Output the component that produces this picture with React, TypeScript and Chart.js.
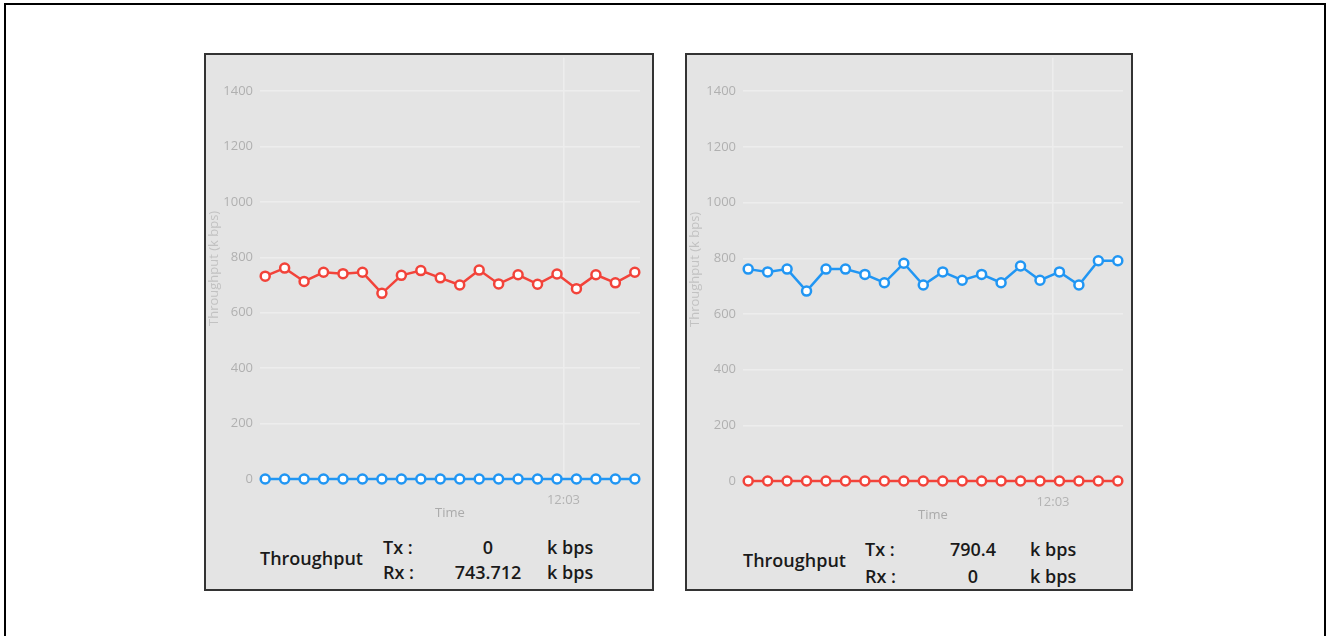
import React, { useEffect, useRef } from 'react';
import { Chart, registerables } from 'chart.js';

Chart.register(...registerables);

// ---- data ----
const leftTimes = [
  '12:02:14', '12:02:17', '12:02:20', '12:02:23', '12:02:26', '12:02:29', '12:02:32', '12:02:35', '12:02:38', '12:02:41',
  '12:02:44', '12:02:47', '12:02:50', '12:02:53', '12:02:56', '12:02:59', '12:03:02', '12:03:05', '12:03:08', '12:03:11',
];
const leftTx = [0, 0, 0, 0, 0, 0, 0, 0, 0, 0, 0, 0, 0, 0, 0, 0, 0, 0, 0, 0];
const leftRx = [732, 761, 713, 746, 741, 746, 670, 735, 752, 726, 700, 754, 704, 737, 703, 740, 687, 737, 708, 746];

const rightTimes = [
  '12:02:13', '12:02:16', '12:02:19', '12:02:22', '12:02:25', '12:02:28', '12:02:31', '12:02:34', '12:02:37', '12:02:40',
  '12:02:43', '12:02:46', '12:02:49', '12:02:52', '12:02:55', '12:02:58', '12:03:01', '12:03:04', '12:03:07', '12:03:10',
];
const rightTx = [761, 751, 761, 682, 761, 761, 742, 712, 782, 704, 751, 721, 742, 712, 772, 721, 751, 704, 791, 791];
const rightRx = [0, 0, 0, 0, 0, 0, 0, 0, 0, 0, 0, 0, 0, 0, 0, 0, 0, 0, 0, 0];

const yTicks = [0, 200, 400, 600, 800, 1000, 1200, 1400];
const xTickLabels = ['12:03'];
const yMax = 1520;

const leftSummary = { tx: '0', rx: '743.712' };
const rightSummary = { tx: '790.4', rx: '0' };

// ---- style ----
const FONT = '"Open Sans", "Noto Sans", sans-serif';
const BLUE = '#2196f3';
const RED = '#f2433a';
const GRID = '#ededed';
const PANEL_BG = '#e4e4e4';

const toSec = (t: string) => {
  const parts = t.split(':').map(Number);
  return parts[0] * 3600 + parts[1] * 60 + (parts[2] || 0);
};

type PanelProps = {
  left: number;
  width: number;
  canvasLeft: number;
  canvasWidth: number;
  canvasHeight: number;
  yWidth: number;
  padRight: number;
  times: string[];
  tx: number[];
  rx: number[];
  summary: { tx: string; rx: string };
  text: { tpLeft: number; tpTop: number; lblLeft: number; valCenter: number; unitLeft: number; row1Top: number; row2Top: number };
};

function lineDs(label: string, xs: number[], ys: number[], color: string) {
  return {
    label,
    data: xs.map((x, i) => ({ x, y: ys[i] })),
    borderColor: color,
    backgroundColor: color,
    borderWidth: 2.5,
    tension: 0,
    pointRadius: 4.5,
    pointHoverRadius: 4.5,
    pointBorderWidth: 2.5,
    pointBackgroundColor: '#ffffff',
    pointBorderColor: color,
    clip: false as any,
  };
}

function Panel(p: PanelProps) {
  const ref = useRef<HTMLCanvasElement | null>(null);
  useEffect(() => {
    if (!ref.current) return;
    const xs = p.times.map(toSec);
    const chart = new Chart(ref.current, {
      type: 'line',
      data: {
        datasets: [lineDs('Tx', xs, p.tx, BLUE), lineDs('Rx', xs, p.rx, RED)],
      },
      options: {
        animation: false,
        responsive: false,
        maintainAspectRatio: false,
        events: [],
        layout: { padding: { top: 3, right: p.padRight, left: 0, bottom: 0 } },
        plugins: { legend: { display: false }, tooltip: { enabled: false } },
        scales: {
          x: {
            type: 'linear',
            min: xs[0] - 0.8,
            max: xs[xs.length - 1] + 0.8,
            afterBuildTicks: (s: any) => {
              s.ticks = xTickLabels.map((l) => ({ value: toSec(l + ':00') }));
            },
            afterFit: (s: any) => {
              s.height = 42;
            },
            ticks: {
              padding: 13.5,
              color: '#b3b3b3',
              maxRotation: 0,
              autoSkip: false,
              font: { family: FONT, size: 13 },
              callback: (v: any) => {
                const l = xTickLabels.find((t) => toSec(t + ':00') === Number(v));
                return l || '';
              },
            },
            grid: { color: GRID, lineWidth: 1.5, drawTicks: false },
            border: { display: false },
            title: { display: true, text: 'Time', color: '#ababab', font: { family: FONT, size: 13 }, padding: 0 },
          },
          y: {
            min: 0,
            max: yMax,
            afterBuildTicks: (s: any) => {
              s.ticks = yTicks.map((v) => ({ value: v }));
            },
            afterFit: (s: any) => {
              s.width = p.yWidth;
            },
            ticks: {
              padding: 7,
              color: '#b0b0b0',
              font: { family: FONT, size: 13 },
              callback: (v: any) => String(v),
            },
            grid: { color: GRID, lineWidth: 1.5, drawTicks: false },
            border: { display: false },
            title: {
              display: true,
              text: 'Throughput (k bps)',
              color: '#c2c2c2',
              font: { family: FONT, size: 13 },
              padding: 0,
            },
          },
        },
      } as any,
    });
    return () => chart.destroy();
  }, []);

  const t = p.text;
  const txt: React.CSSProperties = {
    position: 'absolute',
    fontFamily: FONT,
    fontWeight: 600,
    fontSize: 18,
    lineHeight: '24px',
    color: '#1a1a1a',
    whiteSpace: 'nowrap',
  };
  return (
    <>
      <div
        style={{
          position: 'absolute',
          left: p.left,
          top: 53,
          width: p.width,
          height: 538,
          boxSizing: 'border-box',
          border: '2px solid #333333',
          background: PANEL_BG,
        }}
      />
      <canvas
        ref={ref}
        width={p.canvasWidth}
        height={p.canvasHeight}
        style={{ position: 'absolute', left: p.canvasLeft, top: 43, width: p.canvasWidth, height: p.canvasHeight }}
      />
      <div style={{ ...txt, left: t.tpLeft, top: t.tpTop }}>Throughput</div>
      <div style={{ ...txt, left: t.lblLeft, top: t.row1Top }}>Tx :</div>
      <div style={{ ...txt, left: t.lblLeft, top: t.row2Top }}>Rx :</div>
      <div style={{ ...txt, left: t.valCenter - 60, width: 120, textAlign: 'center', top: t.row1Top }}>{p.summary.tx}</div>
      <div style={{ ...txt, left: t.valCenter - 60, width: 120, textAlign: 'center', top: t.row2Top }}>{p.summary.rx}</div>
      <div style={{ ...txt, left: t.unitLeft, top: t.row1Top }}>k bps</div>
      <div style={{ ...txt, left: t.unitLeft, top: t.row2Top }}>k bps</div>
    </>
  );
}

export default function App() {
  return (
    <div style={{ position: 'fixed', left: 0, top: 0, width: 1328, height: 636, background: '#ffffff', overflow: 'hidden' }}>
      <div
        style={{
          position: 'absolute',
          left: 4,
          top: 3,
          width: 1322,
          height: 660,
          boxSizing: 'border-box',
          border: '2px solid #000',
        }}
      />
      <Panel
        left={204}
        width={450}
        canvasLeft={206}
        canvasWidth={445}
        canvasHeight={478}
        yWidth={54}
        padRight={11}
        times={leftTimes}
        tx={leftTx}
        rx={leftRx}
        summary={leftSummary}
        text={{ tpLeft: 260, tpTop: 546, lblLeft: 383, valCenter: 488, unitLeft: 547, row1Top: 535, row2Top: 560 }}
      />
      <Panel
        left={685}
        width={448}
        canvasLeft={687}
        canvasWidth={443}
        canvasHeight={480}
        yWidth={56}
        padRight={5}
        times={rightTimes}
        tx={rightTx}
        rx={rightRx}
        summary={rightSummary}
        text={{ tpLeft: 743, tpTop: 548, lblLeft: 865, valCenter: 973, unitLeft: 1030, row1Top: 537, row2Top: 564 }}
      />
    </div>
  );
}
